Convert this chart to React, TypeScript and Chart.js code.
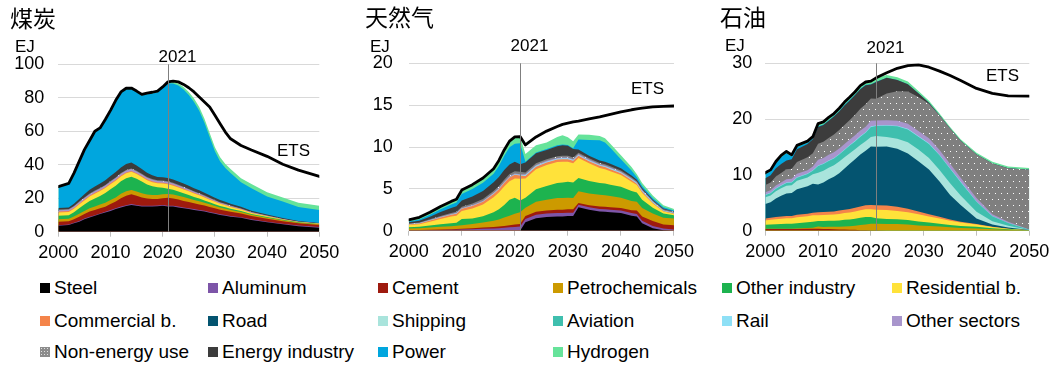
import React, { useEffect, useRef } from "react";
import { Chart, registerables } from "chart.js";

Chart.register(...registerables);

const FONT = "'Liberation Sans', Arial, Helvetica, sans-serif";
const CJK_FONT = "'Noto Sans CJK SC', 'Noto Sans CJK JP', sans-serif";

// ---------- categories ----------
const sectorKeys = ["steel", "aluminum", "cement", "petrochemicals", "otherIndustry", "residential", "commercial", "road", "shipping", "aviation", "rail", "otherSectors", "nonEnergy", "energyIndustry", "power", "hydrogen"];
const sectorLabels = ["Steel", "Aluminum", "Cement", "Petrochemicals", "Other industry", "Residential b.", "Commercial b.", "Road", "Shipping", "Aviation", "Rail", "Other sectors", "Non-energy use", "Energy industry", "Power", "Hydrogen"];
const sectorColors = ["#000000", "#7d55a8", "#9e1a0e", "#cc9a00", "#1db34f", "#ffe23a", "#f4844a", "#045470", "#a9e4dc", "#3fbfae", "#8ee0f6", "#a895cc", "#7f7f7f", "#3c3c3c", "#00a6de", "#66e39a"];

// ---------- coal (EJ) ----------
const coalYears = [2000, 2002, 2003, 2004, 2005, 2006, 2007, 2008, 2009, 2010, 2011, 2012, 2013, 2014, 2015, 2016, 2017, 2018, 2019, 2020, 2021, 2022, 2023, 2024, 2025, 2026, 2027, 2028, 2029, 2030, 2031, 2032, 2033, 2035, 2037, 2040, 2043, 2046, 2050];
const coalSteel = [3.5, 4.0, 5.0, 6.0, 7.5, 8.5, 9.5, 10.5, 11.5, 12.4, 13.5, 14.5, 15.3, 16.0, 15.5, 15.0, 15.0, 15.0, 15.2, 15.5, 15.0, 15.0, 14.5, 14.0, 13.5, 13.0, 12.5, 12.0, 11.3, 10.7, 10.0, 9.5, 9.0, 8.3, 7.0, 5.6, 4.4, 3.3, 2.4];
const coalAluminum = [0.3, 0.3, 0.3, 0.35, 0.4, 0.4, 0.4, 0.4, 0.45, 0.5, 0.5, 0.5, 0.5, 0.5, 0.5, 0.5, 0.5, 0.5, 0.5, 0.5, 0.5, 0.5, 0.5, 0.5, 0.5, 0.5, 0.5, 0.5, 0.45, 0.45, 0.45, 0.45, 0.4, 0.4, 0.4, 0.4, 0.4, 0.4, 0.4];
const coalCement = [2.2, 2.0, 2.2, 2.6, 2.6, 3.1, 3.1, 3.1, 3.0, 3.6, 4.0, 5.0, 5.7, 5.8, 5.5, 5.0, 4.3, 4.0, 3.8, 4.0, 4.8, 4.4, 4.2, 3.9, 3.7, 3.5, 3.3, 3.1, 3.0, 2.8, 2.7, 2.6, 2.5, 2.2, 2.0, 1.8, 1.5, 1.3, 1.2];
const coalPetro = [1.5, 1.5, 1.6, 1.8, 1.9, 2.0, 2.1, 2.2, 2.3, 2.5, 2.5, 2.6, 2.6, 2.6, 2.5, 2.5, 2.4, 2.4, 2.4, 2.3, 2.2, 2.3, 2.3, 2.3, 2.2, 2.0, 1.9, 1.7, 1.6, 1.4, 1.3, 1.2, 1.1, 0.9, 0.7, 0.6, 0.5, 0.4, 0.4];
const coalOtherInd = [2.0, 2.0, 2.5, 3.2, 3.8, 4.3, 4.8, 5.2, 5.8, 6.4, 7.0, 7.5, 7.9, 8.0, 7.6, 7.0, 6.0, 5.2, 4.6, 4.0, 3.2, 2.8, 2.5, 2.2, 2.0, 1.8, 1.6, 1.4, 1.2, 1.0, 0.9, 0.8, 0.7, 0.6, 0.5, 0.4, 0.3, 0.3, 0.2];
const coalResidential = [2.0, 2.0, 2.1, 2.3, 2.5, 2.7, 2.8, 2.9, 3.0, 3.0, 3.0, 2.9, 2.9, 2.9, 2.8, 2.7, 2.6, 2.5, 2.4, 2.5, 2.6, 2.5, 2.4, 2.3, 2.2, 2.0, 1.9, 1.8, 1.6, 1.5, 1.3, 1.2, 1.1, 0.8, 0.6, 0.4, 0.2, 0.1, 0.1];
const coalCommercial = [0.5, 0.5, 0.5, 0.5, 0.5, 0.5, 0.5, 0.5, 0.5, 0.5, 0.5, 0.5, 0.5, 0.5, 0.5, 0.5, 0.5, 0.5, 0.5, 0.5, 0.5, 0.5, 0.45, 0.45, 0.4, 0.4, 0.35, 0.35, 0.3, 0.3, 0.25, 0.25, 0.2, 0.2, 0.15, 0.1, 0.1, 0.05, 0.05];
const coalOtherSec = [0.8, 0.8, 0.8, 0.85, 0.9, 0.9, 0.95, 0.95, 1.0, 1.0, 1.05, 1.1, 1.1, 1.1, 1.05, 1.0, 1.0, 0.95, 0.9, 0.9, 0.9, 0.85, 0.8, 0.75, 0.7, 0.65, 0.6, 0.55, 0.5, 0.5, 0.45, 0.4, 0.4, 0.3, 0.25, 0.2, 0.15, 0.1, 0.1];
const coalNonEnergy = [0.4, 0.4, 0.4, 0.4, 0.4, 0.4, 0.4, 0.4, 0.4, 0.4, 0.4, 0.4, 0.4, 0.4, 0.4, 0.4, 0.4, 0.4, 0.4, 0.4, 0.4, 0.4, 0.4, 0.4, 0.35, 0.35, 0.35, 0.3, 0.3, 0.3, 0.3, 0.25, 0.25, 0.2, 0.15, 0.15, 0.1, 0.1, 0.1];
const coalEnergyInd = [1.0, 1.0, 1.3, 1.6, 1.9, 2.2, 2.4, 2.6, 2.8, 3.0, 3.2, 3.4, 3.5, 3.5, 3.2, 2.8, 2.5, 2.2, 2.0, 2.0, 2.0, 2.0, 2.0, 2.0, 1.9, 1.8, 1.7, 1.6, 1.5, 1.4, 1.3, 1.2, 1.1, 1.0, 0.8, 0.6, 0.5, 0.4, 0.3];
const coalPower = [12.1, 13.8, 17.7, 21.8, 26.0, 28.9, 32.45, 32.65, 35.65, 38.6, 42.25, 44.4, 44.6, 43.8, 43.75, 43.9, 46.9, 48.95, 50.6, 53.2, 56.6, 57.35, 57.25, 56.2, 54.25, 51.5, 47.55, 41.8, 34.75, 27.65, 23.05, 20.15, 18.25, 14.6, 13.45, 10.75, 9.85, 8.35, 7.75];
const coalHydrogen = [0.6, 0.6, 0.6, 0.6, 0.6, 0.6, 0.6, 0.6, 0.6, 0.6, 0.6, 0.7, 0.7, 0.7, 0.7, 0.7, 0.7, 0.7, 0.7, 0.7, 0.8, 1.0, 1.2, 1.5, 1.8, 2.0, 2.2, 2.4, 2.5, 2.5, 2.5, 2.5, 2.5, 2.5, 2.5, 2.5, 2.5, 2.5, 2.5];
const coalEts = [26.9, 28.9, 35, 42, 49, 54.5, 60, 62, 67, 72.5, 78.5, 83.5, 85.7, 85.8, 84, 82, 82.8, 83.3, 84, 86.5, 89.5, 90, 89.5, 88, 86, 83.5, 80.5, 77.5, 74.5, 69.5, 64.5, 59.5, 55.5, 51.5, 48.8, 45, 40.3, 36.8, 33];

// ---------- natural gas (EJ) ----------
const gasYears = [2000, 2002, 2004, 2006, 2008, 2009, 2010, 2012, 2014, 2016, 2017, 2018, 2019, 2020, 2021, 2022, 2024, 2026, 2028, 2029, 2030, 2031, 2032, 2034, 2036, 2037, 2038, 2040, 2042, 2043, 2044, 2046, 2048, 2050];
const gasSteel = [0, 0, 0, 0, 0, 0, 0, 0, 0, 0, 0, 0, 0, 0, 0, 1.0, 1.5, 1.65, 1.7, 1.7, 1.75, 1.75, 2.8, 2.5, 2.3, 2.25, 2.2, 2.1, 1.8, 1.7, 0.9, 0.3, 0.05, 0];
const gasAluminum = [0.05, 0.05, 0.07, 0.09, 0.11, 0.12, 0.14, 0.18, 0.22, 0.27, 0.3, 0.35, 0.4, 0.45, 0.5, 0.4, 0.4, 0.4, 0.4, 0.4, 0.4, 0.4, 0.3, 0.3, 0.3, 0.3, 0.3, 0.3, 0.3, 0.3, 0.3, 0.25, 0.2, 0.15];
const gasCement = [0.02, 0.02, 0.03, 0.05, 0.07, 0.08, 0.09, 0.12, 0.15, 0.18, 0.2, 0.22, 0.25, 0.28, 0.3, 0.35, 0.35, 0.35, 0.4, 0.4, 0.4, 0.4, 0.2, 0.25, 0.3, 0.3, 0.3, 0.3, 0.35, 0.4, 0.5, 0.6, 0.5, 0.5];
const gasPetro = [0.2, 0.22, 0.28, 0.32, 0.36, 0.38, 0.42, 0.5, 0.6, 0.75, 0.85, 1.0, 1.15, 1.3, 1.4, 1.0, 1.2, 1.3, 1.4, 1.4, 1.4, 1.35, 1.4, 1.4, 1.4, 1.4, 1.35, 1.25, 1.1, 1.05, 1.0, 0.9, 0.8, 0.8];
const gasOtherInd = [0.15, 0.18, 0.25, 0.3, 0.35, 0.37, 0.75, 0.65, 0.75, 1.0, 1.2, 1.5, 1.9, 1.9, 1.4, 1.2, 1.5, 1.65, 1.8, 1.85, 1.9, 1.85, 1.6, 1.5, 1.4, 1.4, 1.35, 1.3, 1.2, 1.1, 1.0, 0.7, 0.5, 0.4];
const gasResidential = [0.25, 0.3, 0.45, 0.65, 0.8, 0.85, 0.95, 1.2, 1.4, 1.8, 2.0, 2.2, 2.2, 2.3, 2.6, 2.3, 2.4, 2.5, 2.5, 2.5, 2.4, 2.3, 2.4, 2.1, 1.8, 1.7, 1.6, 1.4, 1.1, 0.9, 0.8, 0.5, 0.25, 0.15];
const gasCommercial = [0.08, 0.1, 0.14, 0.18, 0.22, 0.24, 0.27, 0.3, 0.33, 0.38, 0.4, 0.42, 0.45, 0.45, 0.4, 0.3, 0.3, 0.3, 0.3, 0.3, 0.3, 0.3, 0.25, 0.25, 0.25, 0.25, 0.25, 0.2, 0.2, 0.15, 0.15, 0.1, 0.05, 0.05];
const gasRail = [0.02, 0.02, 0.02, 0.03, 0.03, 0.03, 0.03, 0.04, 0.04, 0.05, 0.05, 0.05, 0.05, 0.05, 0.05, 0.1, 0.1, 0.1, 0.1, 0.1, 0.1, 0.1, 0.1, 0.1, 0.1, 0.1, 0.1, 0.1, 0.1, 0.1, 0.1, 0.1, 0.05, 0.05];
const gasOtherSec = [0.03, 0.03, 0.04, 0.05, 0.06, 0.06, 0.07, 0.08, 0.09, 0.1, 0.1, 0.1, 0.1, 0.1, 0.1, 0.1, 0.1, 0.1, 0.1, 0.1, 0.1, 0.1, 0.1, 0.1, 0.1, 0.1, 0.1, 0.1, 0.1, 0.1, 0.1, 0.05, 0.05, 0.05];
const gasNonEnergy = [0.05, 0.06, 0.08, 0.1, 0.12, 0.13, 0.15, 0.17, 0.2, 0.22, 0.23, 0.25, 0.26, 0.27, 0.3, 0.2, 0.2, 0.2, 0.2, 0.2, 0.2, 0.2, 0.15, 0.15, 0.15, 0.15, 0.15, 0.15, 0.15, 0.1, 0.1, 0.1, 0.1, 0.1];
const gasEnergyInd = [0.15, 0.2, 0.3, 0.45, 0.6, 0.65, 0.75, 0.85, 0.95, 1.05, 1.1, 1.15, 1.15, 1.15, 0.9, 1.2, 1.2, 1.1, 1.2, 1.25, 1.2, 1.0, 0.4, 0.3, 0.3, 0.3, 0.3, 0.25, 0.2, 0.2, 0.15, 0.1, 0.1, 0.05];
const gasPower = [0.1, 0.17, 0.24, 0.33, 0.4, 0.45, 0.75, 0.9, 1.0, 1.0, 1.3, 1.7, 2.05, 2.15, 2.5, 0.1, 0.1, 0.1, 0.1, 0.1, 0.1, 0.1, 1.2, 1.9, 2.4, 2.3, 1.9, 1.1, 0.6, 0.3, 0.25, 0.2, 0.15, 0.1];
const gasHydrogen = [0.2, 0.25, 0.3, 0.35, 0.38, 0.39, 0.48, 0.51, 0.57, 0.6, 0.65, 0.7, 0.75, 0.8, 0.8, 0.9, 0.85, 0.8, 1.0, 1.1, 0.9, 0.85, 0.6, 0.6, 0.5, 0.5, 0.5, 0.45, 0.4, 0.35, 0.35, 0.3, 0.25, 0.2];
const gasEts = [1.3, 1.6, 2.2, 2.9, 3.5, 3.75, 4.85, 5.5, 6.3, 7.4, 8.4, 9.65, 10.7, 11.2, 11.25, 10.25, 11.2, 11.9, 12.45, 12.7, 12.85, 13.0, 13.1, 13.35, 13.6, 13.75, 13.9, 14.2, 14.45, 14.55, 14.65, 14.8, 14.85, 14.9];

// ---------- oil (EJ) ----------
const oilYears = [2000, 2001, 2002, 2003, 2004, 2005, 2006, 2008, 2009, 2010, 2011, 2012, 2013, 2014, 2015, 2016, 2017, 2018, 2019, 2020, 2021, 2023, 2025, 2027, 2029, 2031, 2033, 2035, 2037, 2040, 2043, 2046, 2050];
const oilCement = [0.3, 0.3, 0.3, 0.3, 0.3, 0.3, 0.3, 0.35, 0.35, 0.35, 0.3, 0.3, 0.25, 0.2, 0.2, 0.15, 0.15, 0.1, 0.1, 0.05, 0.05, 0, 0, 0, 0, 0, 0, 0, 0, 0, 0, 0, 0];
const oilPetro = [0.05, 0.05, 0.05, 0.05, 0.05, 0.05, 0.1, 0.15, 0.2, 0.4, 0.35, 0.4, 0.45, 0.5, 0.55, 0.65, 0.75, 0.9, 1.0, 1.2, 1.2, 1.2, 1.2, 1.1, 0.95, 0.85, 0.75, 0.6, 0.5, 0.4, 0.25, 0.15, 0.05];
const oilOtherInd = [0.7, 0.75, 0.8, 0.85, 0.9, 0.9, 0.95, 1.0, 1.05, 1.0, 1.1, 1.1, 1.1, 1.15, 1.2, 1.2, 1.25, 1.3, 1.35, 1.2, 1.0, 0.9, 0.85, 0.8, 0.7, 0.6, 0.5, 0.4, 0.35, 0.3, 0.2, 0.1, 0.02];
const oilResidential = [0.8, 0.85, 0.9, 0.95, 1.0, 1.0, 1.05, 1.1, 1.15, 1.0, 1.05, 1.05, 1.1, 1.15, 1.2, 1.25, 1.3, 1.35, 1.4, 1.4, 1.5, 1.6, 1.5, 1.4, 1.3, 1.1, 0.95, 0.8, 0.6, 0.4, 0.2, 0.1, 0.02];
const oilCommercial = [0.35, 0.35, 0.4, 0.4, 0.4, 0.4, 0.45, 0.45, 0.45, 0.55, 0.55, 0.55, 0.55, 0.6, 0.6, 0.65, 0.65, 0.7, 0.7, 0.75, 0.8, 0.8, 0.75, 0.65, 0.5, 0.4, 0.3, 0.2, 0.15, 0.1, 0.05, 0.02, 0];
const oilRoad = [2.6, 2.8, 3.3, 3.7, 4.0, 4.1, 4.6, 4.9, 5.2, 5.0, 5.3, 5.8, 6.2, 6.7, 7.4, 8.1, 8.7, 9.3, 9.8, 10.5, 10.5, 10.6, 10.4, 9.9, 9.0, 8.0, 6.3, 4.4, 3.0, 1.0, 0.4, 0.2, 0.02];
const oilShipping = [1.2, 1.2, 1.3, 1.35, 1.4, 1.4, 1.5, 1.6, 1.7, 2.1, 2.1, 2.1, 2.1, 2.1, 2.0, 1.9, 1.8, 1.7, 1.7, 1.7, 1.9, 1.7, 1.8, 2.0, 2.1, 2.1, 2.1, 2.1, 1.7, 1.2, 0.6, 0.3, 0.03];
const oilAviation = [0.4, 0.4, 0.45, 0.45, 0.5, 0.5, 0.55, 0.6, 0.65, 1.2, 1.2, 1.2, 1.2, 1.25, 1.3, 1.35, 1.4, 1.5, 1.5, 1.8, 1.8, 2.0, 2.2, 2.3, 2.3, 2.5, 2.6, 2.6, 2.4, 1.8, 0.9, 0.5, 0.05];
const oilRail = [0.1, 0.1, 0.1, 0.1, 0.1, 0.1, 0.1, 0.1, 0.1, 0.1, 0.1, 0.1, 0.1, 0.1, 0.1, 0.1, 0.1, 0.1, 0.1, 0.1, 0.1, 0.1, 0.1, 0.1, 0.1, 0.1, 0.1, 0.1, 0.1, 0.05, 0.05, 0.02, 0];
const oilOtherSec = [0.4, 0.45, 0.5, 0.5, 0.55, 0.55, 0.6, 0.6, 0.65, 1.0, 1.0, 1.0, 1.0, 1.0, 1.0, 1.0, 1.0, 1.0, 1.0, 1.0, 0.9, 0.9, 0.9, 0.9, 0.9, 0.9, 0.85, 0.8, 0.7, 0.6, 0.3, 0.2, 0.03];
const oilNonEnergy = [1.3, 1.4, 1.6, 1.7, 1.8, 1.8, 2.1, 2.3, 2.4, 2.9, 2.9, 3.0, 3.2, 3.3, 3.4, 3.5, 3.7, 3.9, 4.0, 4.0, 3.9, 4.8, 5.3, 5.8, 6.1, 6.2, 6.2, 6.3, 6.6, 7.8, 9.1, 9.6, 10.7];
const oilEnergyInd = [1.2, 1.3, 1.5, 1.6, 1.6, 1.7, 2.3, 2.4, 2.5, 3.0, 3.0, 3.1, 3.2, 3.3, 3.5, 3.5, 3.5, 3.5, 3.4, 2.5, 3.0, 2.8, 2.0, 1.3, 0.7, 0.2, 0.05, 0, 0, 0, 0, 0, 0];
const oilPower = [0.7, 0.65, 0.9, 1.2, 1.3, 0.5, 0.4, 0.2, 0.15, 0.1, 0.1, 0.1, 0.1, 0.1, 0.1, 0.1, 0.1, 0.1, 0.1, 0.05, 0.05, 0, 0, 0, 0, 0, 0, 0, 0, 0, 0, 0, 0];
const oilHydrogen = [0.3, 0.3, 0.3, 0.35, 0.3, 0.3, 0.3, 0.3, 0.3, 0.5, 0.45, 0.5, 0.45, 0.5, 0.5, 0.5, 0.5, 0.55, 0.5, 0.55, 0.7, 0.5, 0.5, 0.5, 0.4, 0.35, 0.3, 0.3, 0.3, 0.3, 0.3, 0.3, 0.3];
const oilEts = [10.4, 10.9, 12.4, 13.5, 14.2, 13.6, 15.3, 16.05, 16.85, 19.2, 19.5, 20.3, 21.0, 21.95, 23.05, 23.95, 24.9, 26.0, 26.65, 26.8, 27.4, 28.3, 29.1, 29.6, 29.7, 29.3, 28.6, 27.8, 26.9, 25.5, 24.6, 24.15, 24.1];

const markerYear = 2021;

type Spec = {
  title: string; left: number; width: number; years: number[];
  layers: [string, number[]][]; ets: number[]; yMax: number; yStep: number; yPad: number;
  plot: { left: number; right: number; top: number; bottom: number };
  titleX: number; titleY: number; ejX: number; ejY: number; markY: number; etsX: number; etsY: number;
};

const CANVAS_H = 270;

const specs: Spec[] = [
  {
    title: "煤炭", left: 0, width: 350, years: coalYears,
    layers: [["steel", coalSteel], ["aluminum", coalAluminum], ["cement", coalCement], ["petrochemicals", coalPetro], ["otherIndustry", coalOtherInd], ["residential", coalResidential], ["commercial", coalCommercial], ["otherSectors", coalOtherSec], ["nonEnergy", coalNonEnergy], ["energyIndustry", coalEnergyInd], ["power", coalPower], ["hydrogen", coalHydrogen]],
    ets: coalEts, yMax: 100, yStep: 20, yPad: 14,
    plot: { left: 58.3, right: 319.3, top: 64.3, bottom: 231.7 },
    titleX: 10, titleY: 18, ejX: 15, ejY: 47.5, markY: 57, etsX: 277, etsY: 151,
  },
  {
    title: "天然气", left: 350, width: 350, years: gasYears,
    layers: [["steel", gasSteel], ["aluminum", gasAluminum], ["cement", gasCement], ["petrochemicals", gasPetro], ["otherIndustry", gasOtherInd], ["residential", gasResidential], ["commercial", gasCommercial], ["rail", gasRail], ["otherSectors", gasOtherSec], ["nonEnergy", gasNonEnergy], ["energyIndustry", gasEnergyInd], ["power", gasPower], ["hydrogen", gasHydrogen]],
    ets: gasEts, yMax: 20, yStep: 5, yPad: 16,
    plot: { left: 58.7, right: 324.3, top: 63.3, bottom: 230.7 },
    titleX: 15, titleY: 17, ejX: 20, ejY: 47, markY: 46.5, etsX: 281, etsY: 89,
  },
  {
    title: "石油", left: 700, width: 360, years: oilYears,
    layers: [["cement", oilCement], ["petrochemicals", oilPetro], ["otherIndustry", oilOtherInd], ["residential", oilResidential], ["commercial", oilCommercial], ["road", oilRoad], ["shipping", oilShipping], ["aviation", oilAviation], ["rail", oilRail], ["otherSectors", oilOtherSec], ["nonEnergy", oilNonEnergy], ["energyIndustry", oilEnergyInd], ["power", oilPower], ["hydrogen", oilHydrogen]],
    ets: oilEts, yMax: 30, yStep: 10, yPad: 13,
    plot: { left: 65.3, right: 329.3, top: 63.3, bottom: 230.7 },
    titleX: 20, titleY: 17.5, ejX: 25, ejY: 46.5, markY: 48, etsX: 286, etsY: 76,
  },
];

function makeDots(): CanvasPattern | string {
  const c = document.createElement("canvas");
  c.width = 6;
  c.height = 12;
  const g = c.getContext("2d");
  if (!g) return "#7f7f7f";
  g.fillStyle = "#7f7f7f";
  g.fillRect(0, 0, 6, 12);
  g.fillStyle = "#ffffff";
  g.fillRect(1, 1, 1, 1);
  g.fillRect(4, 7, 1, 1);
  return g.createPattern(c, "repeat") || "#7f7f7f";
}

function AreaChart({ spec }: { spec: Spec }) {
  const ref = useRef<HTMLCanvasElement | null>(null);
  useEffect(() => {
    const canvas = ref.current;
    if (!canvas) return;
    const pattern = makeDots();
    const datasets: any[] = spec.layers.map(([key, vals]) => {
      const i = sectorKeys.indexOf(key);
      return {
        label: sectorLabels[i],
        data: spec.years.map((yr, j) => ({ x: yr, y: vals[j] })),
        stack: "sectors",
        fill: "origin",
        backgroundColor: key === "nonEnergy" ? pattern : sectorColors[i],
        borderColor: "rgba(0,0,0,0)",
        borderWidth: 0,
        pointRadius: 0,
        tension: 0,
        order: 1,
      };
    });
    datasets.push({
      label: "ETS",
      data: spec.years.map((yr, j) => ({ x: yr, y: spec.ets[j] })),
      stack: "ets",
      fill: false,
      borderColor: "#000000",
      borderWidth: 2.8,
      borderJoinStyle: "round",
      borderCapStyle: "round",
      pointRadius: 0,
      tension: 0,
      order: 0,
    });

    const annot = {
      id: "annot" + spec.left,
      afterDatasetsDraw(chart: any) {
        const { ctx, chartArea, scales } = chart;
        const px = Math.round(scales.x.getPixelForValue(markerYear)) + 0.5;
        ctx.save();
        ctx.strokeStyle = "#7f7f7f";
        ctx.lineWidth = 1;
        ctx.beginPath();
        ctx.moveTo(px, chartArea.top);
        ctx.lineTo(px, chartArea.bottom);
        ctx.stroke();
        ctx.fillStyle = "#000000";
        ctx.font = `17px ${FONT}`;
        ctx.textBaseline = "middle";
        ctx.textAlign = "center";
        ctx.fillText(String(markerYear), px + 9, spec.markY);
        ctx.textAlign = "left";
        ctx.fillText("ETS", spec.etsX, spec.etsY);
        ctx.fillText("EJ", spec.ejX, spec.ejY);
        ctx.font = `23px ${CJK_FONT}`;
        ctx.fillText(spec.title, spec.titleX, spec.titleY);
        ctx.restore();
      },
    };

    const p = spec.plot;
    const chart = new Chart(canvas, {
      type: "line",
      data: { datasets },
      options: {
        responsive: false,
        animation: false,
        events: [],
        layout: { padding: { left: 0, top: p.top, right: spec.width - p.right, bottom: CANVAS_H - p.bottom - 30 } },
        plugins: { legend: { display: false }, tooltip: { enabled: false }, title: { display: false } },
        scales: {
          x: {
            type: "linear",
            min: 2000,
            max: 2050,
            afterFit: (s: any) => { s.height = 30; },
            border: { display: false },
            grid: { drawOnChartArea: false, drawTicks: true, tickLength: 5, color: "#bfbfbf" },
            ticks: { stepSize: 10, autoSkip: false, maxRotation: 0, padding: 6, color: "#000000", font: { family: FONT, size: 18 }, callback: (v: any) => String(v) },
          },
          y: {
            stacked: true,
            min: 0,
            max: spec.yMax,
            afterFit: (s: any) => { s.width = p.left; },
            border: { display: false },
            grid: { color: "#d9d9d9", drawTicks: false },
            ticks: { stepSize: spec.yStep, padding: spec.yPad, color: "#000000", font: { family: FONT, size: 18 } },
          },
        },
      } as any,
      plugins: [annot],
    });
    return () => chart.destroy();
  }, [spec]);
  return (
    <canvas
      ref={ref}
      width={spec.width}
      height={CANVAS_H}
      style={{ position: "absolute", left: spec.left, top: 0, width: spec.width, height: CANVAS_H }}
    />
  );
}

const legendColX = [40, 208, 378, 553, 722, 892];
const legendRowY = [288, 320.5, 352];

function Legend() {
  return (
    <>
      {sectorKeys.map((key, i) => {
        const r = Math.floor(i / 6);
        const c = i % 6;
        const swatch: React.CSSProperties =
          key === "nonEnergy"
            ? { background: "#8c8c8c", backgroundImage: "radial-gradient(#e0e0e0 0.7px, transparent 0.9px)", backgroundSize: "3px 3px" }
            : { background: sectorColors[i] };
        return (
          <div
            key={key}
            style={{ position: "absolute", left: legendColX[c], top: legendRowY[r] - 12, height: 24, display: "flex", alignItems: "center", whiteSpace: "nowrap" }}
          >
            <div style={{ width: 10, height: 10, marginRight: 4, ...swatch }} />
            <span style={{ fontFamily: FONT, fontSize: 19, color: "#000", lineHeight: "24px" }}>{sectorLabels[i]}</span>
          </div>
        );
      })}
    </>
  );
}

export default function App() {
  return (
    <div style={{ position: "absolute", left: 0, top: 0, width: 1060, height: 370, background: "#ffffff", overflow: "hidden" }}>
      {specs.map((s) => (
        <AreaChart key={s.title} spec={s} />
      ))}
      <Legend />
    </div>
  );
}
